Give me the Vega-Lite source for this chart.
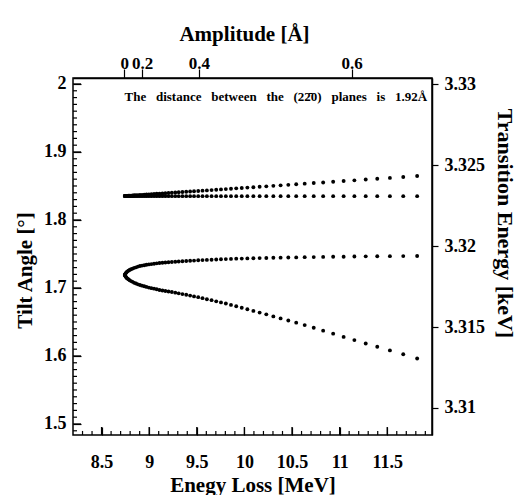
{
  "$schema": "https://vega.github.io/schema/vega-lite/v6.json",
  "width": 359,
  "height": 357,
  "autosize": "none",
  "padding": {"left": 73, "top": 78, "right": 88, "bottom": 60},
  "background": "white",
  "config": {
    "view": {"stroke": "black", "strokeWidth": 1.5},
    "axis": {
      "grid": false,
      "domainColor": "black",
      "domainWidth": 1.5,
      "tickColor": "black",
      "tickWidth": 1.2,
      "labelColor": "black",
      "titleColor": "black",
      "labelFont": "Liberation Serif",
      "labelFontWeight": "bold",
      "labelFontSize": 18,
      "titleFont": "Liberation Serif",
      "titleFontWeight": "bold",
      "titleFontSize": 21,
      "labelOverlap": false,
      "labelFlush": false
    }
  },
  "datasets": {
    "curves": [
      {"E": 8.744, "U1": 1.8353, "U2": 1.8353, "C1": 1.7191, "C2": 1.7191},
      {"E": 8.747, "U1": 1.8353, "U2": 1.8352, "C1": 1.7200, "C2": 1.7182},
      {"E": 8.752, "U1": 1.8354, "U2": 1.8352, "C1": 1.7215, "C2": 1.7168},
      {"E": 8.760, "U1": 1.8355, "U2": 1.8351, "C1": 1.7228, "C2": 1.7154},
      {"E": 8.769, "U1": 1.8355, "U2": 1.8351, "C1": 1.7241, "C2": 1.7141},
      {"E": 8.781, "U1": 1.8357, "U2": 1.8351, "C1": 1.7254, "C2": 1.7128},
      {"E": 8.794, "U1": 1.8358, "U2": 1.8350, "C1": 1.7265, "C2": 1.7115},
      {"E": 8.809, "U1": 1.8359, "U2": 1.8350, "C1": 1.7276, "C2": 1.7101},
      {"E": 8.826, "U1": 1.8361, "U2": 1.8350, "C1": 1.7285, "C2": 1.7090},
      {"E": 8.843, "U1": 1.8363, "U2": 1.8350, "C1": 1.7296, "C2": 1.7076},
      {"E": 8.862, "U1": 1.8364, "U2": 1.8350, "C1": 1.7304, "C2": 1.7066},
      {"E": 8.882, "U1": 1.8366, "U2": 1.8350, "C1": 1.7315, "C2": 1.7054},
      {"E": 8.903, "U1": 1.8368, "U2": 1.8350, "C1": 1.7324, "C2": 1.7043},
      {"E": 8.925, "U1": 1.8370, "U2": 1.8350, "C1": 1.7329, "C2": 1.7034},
      {"E": 8.948, "U1": 1.8373, "U2": 1.8350, "C1": 1.7335, "C2": 1.7025},
      {"E": 8.972, "U1": 1.8375, "U2": 1.8350, "C1": 1.7341, "C2": 1.7016},
      {"E": 8.997, "U1": 1.8377, "U2": 1.8350, "C1": 1.7347, "C2": 1.7006},
      {"E": 9.023, "U1": 1.8380, "U2": 1.8350, "C1": 1.7351, "C2": 1.6997},
      {"E": 9.051, "U1": 1.8382, "U2": 1.8350, "C1": 1.7357, "C2": 1.6990},
      {"E": 9.079, "U1": 1.8385, "U2": 1.8350, "C1": 1.7362, "C2": 1.6981},
      {"E": 9.108, "U1": 1.8388, "U2": 1.8350, "C1": 1.7368, "C2": 1.6971},
      {"E": 9.139, "U1": 1.8391, "U2": 1.8350, "C1": 1.7371, "C2": 1.6963},
      {"E": 9.170, "U1": 1.8394, "U2": 1.8350, "C1": 1.7375, "C2": 1.6956},
      {"E": 9.203, "U1": 1.8397, "U2": 1.8350, "C1": 1.7378, "C2": 1.6949},
      {"E": 9.238, "U1": 1.8400, "U2": 1.8350, "C1": 1.7382, "C2": 1.6941},
      {"E": 9.274, "U1": 1.8404, "U2": 1.8350, "C1": 1.7385, "C2": 1.6931},
      {"E": 9.310, "U1": 1.8407, "U2": 1.8350, "C1": 1.7390, "C2": 1.6921},
      {"E": 9.349, "U1": 1.8411, "U2": 1.8350, "C1": 1.7393, "C2": 1.6910},
      {"E": 9.389, "U1": 1.8415, "U2": 1.8350, "C1": 1.7397, "C2": 1.6900},
      {"E": 9.430, "U1": 1.8419, "U2": 1.8350, "C1": 1.7400, "C2": 1.6888},
      {"E": 9.471, "U1": 1.8423, "U2": 1.8350, "C1": 1.7403, "C2": 1.6876},
      {"E": 9.515, "U1": 1.8427, "U2": 1.8350, "C1": 1.7407, "C2": 1.6865},
      {"E": 9.560, "U1": 1.8431, "U2": 1.8350, "C1": 1.7410, "C2": 1.6850},
      {"E": 9.606, "U1": 1.8435, "U2": 1.8350, "C1": 1.7413, "C2": 1.6835},
      {"E": 9.655, "U1": 1.8440, "U2": 1.8350, "C1": 1.7416, "C2": 1.6821},
      {"E": 9.704, "U1": 1.8445, "U2": 1.8350, "C1": 1.7419, "C2": 1.6804},
      {"E": 9.754, "U1": 1.8450, "U2": 1.8350, "C1": 1.7422, "C2": 1.6788},
      {"E": 9.805, "U1": 1.8454, "U2": 1.8350, "C1": 1.7425, "C2": 1.6771},
      {"E": 9.859, "U1": 1.8460, "U2": 1.8350, "C1": 1.7428, "C2": 1.6751},
      {"E": 9.914, "U1": 1.8465, "U2": 1.8350, "C1": 1.7431, "C2": 1.6732},
      {"E": 9.972, "U1": 1.8470, "U2": 1.8350, "C1": 1.7432, "C2": 1.6710},
      {"E": 10.031, "U1": 1.8476, "U2": 1.8350, "C1": 1.7435, "C2": 1.6688},
      {"E": 10.094, "U1": 1.8482, "U2": 1.8350, "C1": 1.7437, "C2": 1.6663},
      {"E": 10.160, "U1": 1.8488, "U2": 1.8350, "C1": 1.7440, "C2": 1.6638},
      {"E": 10.230, "U1": 1.8495, "U2": 1.8350, "C1": 1.7441, "C2": 1.6612},
      {"E": 10.304, "U1": 1.8502, "U2": 1.8350, "C1": 1.7444, "C2": 1.6582},
      {"E": 10.380, "U1": 1.8509, "U2": 1.8350, "C1": 1.7446, "C2": 1.6553},
      {"E": 10.461, "U1": 1.8517, "U2": 1.8350, "C1": 1.7449, "C2": 1.6522},
      {"E": 10.544, "U1": 1.8525, "U2": 1.8350, "C1": 1.7450, "C2": 1.6490},
      {"E": 10.633, "U1": 1.8534, "U2": 1.8350, "C1": 1.7453, "C2": 1.6454},
      {"E": 10.728, "U1": 1.8543, "U2": 1.8350, "C1": 1.7454, "C2": 1.6415},
      {"E": 10.827, "U1": 1.8552, "U2": 1.8350, "C1": 1.7457, "C2": 1.6372},
      {"E": 10.932, "U1": 1.8562, "U2": 1.8350, "C1": 1.7459, "C2": 1.6328},
      {"E": 11.042, "U1": 1.8573, "U2": 1.8350, "C1": 1.7460, "C2": 1.6281},
      {"E": 11.155, "U1": 1.8583, "U2": 1.8350, "C1": 1.7463, "C2": 1.6234},
      {"E": 11.274, "U1": 1.8595, "U2": 1.8350, "C1": 1.7465, "C2": 1.6184},
      {"E": 11.395, "U1": 1.8606, "U2": 1.8350, "C1": 1.7466, "C2": 1.6135},
      {"E": 11.528, "U1": 1.8619, "U2": 1.8350, "C1": 1.7468, "C2": 1.6082},
      {"E": 11.668, "U1": 1.8632, "U2": 1.8350, "C1": 1.7469, "C2": 1.6025},
      {"E": 11.814, "U1": 1.8646, "U2": 1.8350, "C1": 1.7471, "C2": 1.5963}
    ],
    "majorX": [{"v": 8.5}, {"v": 9}, {"v": 9.5}, {"v": 10}, {"v": 10.5}, {"v": 11}, {"v": 11.5}],
    "minorX": [{"v": 8.3}, {"v": 8.4}, {"v": 8.6}, {"v": 8.7}, {"v": 8.8}, {"v": 8.9}, {"v": 9.1}, {"v": 9.2}, {"v": 9.3}, {"v": 9.4}, {"v": 9.6}, {"v": 9.7}, {"v": 9.8}, {"v": 9.9}, {"v": 10.1}, {"v": 10.2}, {"v": 10.3}, {"v": 10.4}, {"v": 10.6}, {"v": 10.7}, {"v": 10.8}, {"v": 10.9}, {"v": 11.1}, {"v": 11.2}, {"v": 11.3}, {"v": 11.4}, {"v": 11.6}, {"v": 11.7}, {"v": 11.8}, {"v": 11.9}],
    "majorY": [{"v": 1.5}, {"v": 1.6}, {"v": 1.7}, {"v": 1.8}, {"v": 1.9}, {"v": 2.0}],
    "minorY": [{"v": 1.49}, {"v": 1.51}, {"v": 1.52}, {"v": 1.53}, {"v": 1.54}, {"v": 1.55}, {"v": 1.56}, {"v": 1.57}, {"v": 1.58}, {"v": 1.59}, {"v": 1.61}, {"v": 1.62}, {"v": 1.63}, {"v": 1.64}, {"v": 1.65}, {"v": 1.66}, {"v": 1.67}, {"v": 1.68}, {"v": 1.69}, {"v": 1.71}, {"v": 1.72}, {"v": 1.73}, {"v": 1.74}, {"v": 1.75}, {"v": 1.76}, {"v": 1.77}, {"v": 1.78}, {"v": 1.79}, {"v": 1.81}, {"v": 1.82}, {"v": 1.83}, {"v": 1.84}, {"v": 1.85}, {"v": 1.86}, {"v": 1.87}, {"v": 1.88}, {"v": 1.89}, {"v": 1.91}, {"v": 1.92}, {"v": 1.93}, {"v": 1.94}, {"v": 1.95}, {"v": 1.96}, {"v": 1.97}, {"v": 1.98}, {"v": 1.99}],
    "amplitudeTicks": [
      {"E": 8.737, "A": "0"},
      {"E": 8.925, "A": "0.2"},
      {"E": 9.522, "A": "0.4"},
      {"E": 11.127, "A": "0.6"}
    ],
    "transitionTicks": [
      {"T": 3.31},
      {"T": 3.33}
    ]
  },
  "resolve": {
    "scale": {"y": "independent"},
    "axis": {"x": "independent", "y": "independent"}
  },
  "layer": [
    {
      "data": {"name": "majorX"},
      "mark": {"type": "tick", "color": "black", "orient": "vertical", "size": 8, "thickness": 1.3, "opacity": 1},
      "encoding": {
        "x": {"field": "v", "type": "quantitative", "scale": {"domain": [8.2, 11.97], "nice": false, "zero": false}, "axis": null},
        "y": {"datum": 1.4897, "type": "quantitative", "scale": {"domain": [1.4838, 2.0088], "nice": false, "zero": false}, "axis": null}
      }
    },
    {
      "data": {"name": "minorX"},
      "mark": {"type": "tick", "color": "black", "orient": "vertical", "size": 4, "thickness": 1.2, "opacity": 1},
      "encoding": {
        "x": {"field": "v", "type": "quantitative", "scale": {"domain": [8.2, 11.97], "nice": false, "zero": false}, "axis": null},
        "y": {"datum": 1.4868, "type": "quantitative", "scale": {"domain": [1.4838, 2.0088], "nice": false, "zero": false}, "axis": null}
      }
    },
    {
      "data": {"name": "majorY"},
      "mark": {"type": "tick", "color": "black", "orient": "horizontal", "size": 8, "thickness": 1.3, "opacity": 1},
      "encoding": {
        "y": {"field": "v", "type": "quantitative", "scale": {"domain": [1.4838, 2.0088], "nice": false, "zero": false}, "axis": null},
        "x": {"datum": 8.242, "type": "quantitative", "scale": {"domain": [8.2, 11.97], "nice": false, "zero": false}, "axis": null}
      }
    },
    {
      "data": {"name": "minorY"},
      "mark": {"type": "tick", "color": "black", "orient": "horizontal", "size": 4, "thickness": 1.2, "opacity": 1},
      "encoding": {
        "y": {"field": "v", "type": "quantitative", "scale": {"domain": [1.4838, 2.0088], "nice": false, "zero": false}, "axis": null},
        "x": {"datum": 8.221, "type": "quantitative", "scale": {"domain": [8.2, 11.97], "nice": false, "zero": false}, "axis": null}
      }
    },
    {
      "data": {"name": "curves"},
      "transform": [{"fold": ["U1", "U2", "C1", "C2"], "as": ["branch", "tilt"]}],
      "mark": {"type": "circle", "size": 15, "color": "black", "opacity": 1},
      "encoding": {
        "x": {
          "field": "E",
          "type": "quantitative",
          "scale": {"domain": [8.2, 11.97], "nice": false, "zero": false},
          "axis": {
            "orient": "bottom",
            "values": [8.5, 9, 9.5, 10, 10.5, 11, 11.5],
            "labelExpr": "toString(round(datum.value*10)/10)",
            "domain": false,
            "offset": -8,
            "tickSize": 8,
            "labelPadding": 18,
            "title": "Enegy Loss [MeV]",
            "titlePadding": 3
          }
        },
        "y": {
          "field": "tilt",
          "type": "quantitative",
          "scale": {"domain": [1.4838, 2.0088], "nice": false, "zero": false},
          "axis": {
            "orient": "left",
            "values": [1.5, 1.6, 1.7, 1.8, 1.9, 2],
            "labelExpr": "toString(round(datum.value*10)/10)",
            "domain": false,
            "offset": -8,
            "tickSize": 8,
            "labelPadding": 7,
            "title": "Tilt Angle [°]",
            "titlePadding": 8,
            "titleY": 192
          }
        }
      }
    },
    {
      "data": {"values": [{}]},
      "mark": {"type": "text", "font": "Liberation Serif", "fontWeight": "bold", "fontSize": 13, "align": "center", "baseline": "middle", "color": "black"},
      "encoding": {
        "x": {"datum": 10.33, "type": "quantitative", "scale": {"domain": [8.2, 11.97], "nice": false, "zero": false}, "axis": null},
        "y": {"datum": 1.981, "type": "quantitative", "scale": {"domain": [1.4838, 2.0088], "nice": false, "zero": false}, "axis": null},
        "text": {"value": "The \u00a0\u00a0distance \u00a0\u00a0between \u00a0\u00a0the \u00a0\u00a0(22\u03040) \u00a0\u00a0planes \u00a0\u00a0is \u00a0\u00a01.92Å"}
      }
    },
    {
      "data": {"name": "amplitudeTicks"},
      "mark": {"type": "point", "opacity": 0},
      "encoding": {
        "x": {
          "field": "E",
          "type": "quantitative",
          "scale": {"domain": [8.2, 11.97], "nice": false, "zero": false},
          "axis": {
            "orient": "top",
            "values": [8.737, 8.925, 9.522, 11.127],
            "labelExpr": "datum.value < 8.8 ? '0' : datum.value < 9 ? '0.2' : datum.value < 10 ? '0.4' : '0.6'",
            "tickSize": 9,
            "labelPadding": -3,
            "labelFontSize": 17,
            "title": "Amplitude [Å]",
            "titlePadding": 10,
            "titleX": 171
          }
        }
      }
    },
    {
      "data": {"name": "transitionTicks"},
      "mark": {"type": "point", "opacity": 0},
      "encoding": {
        "y": {
          "field": "T",
          "type": "quantitative",
          "scale": {"domain": [3.30833, 3.3304], "nice": false, "zero": false},
          "axis": {
            "orient": "right",
            "values": [3.31, 3.315, 3.32, 3.325, 3.33],
            "labelExpr": "toString(round(datum.value*1000)/1000)",
            "tickSize": 6,
            "labelPadding": 6,
            "title": "Transition Energy [keV]",
            "titleFontSize": 22,
            "titlePadding": 8,
            "titleY": 145
          }
        }
      }
    }
  ]
}
